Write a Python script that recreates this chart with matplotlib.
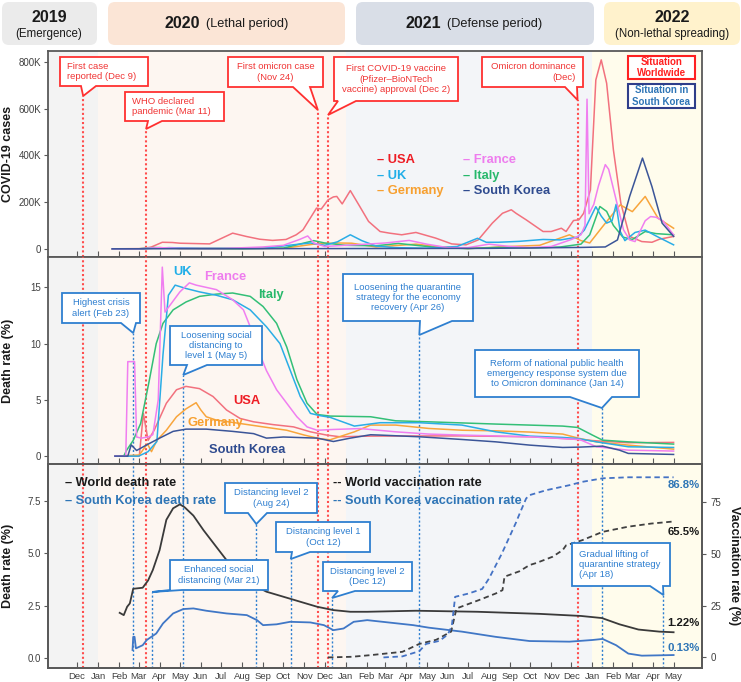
import matplotlib
matplotlib.use("Agg")
import matplotlib.pyplot as plt
import matplotlib.dates as mdates
from matplotlib.patches import Polygon, FancyBboxPatch, Rectangle
from matplotlib.transforms import IdentityTransform
import pandas as pd

plt.rcParams['font.family'] = ['Liberation Sans', 'DejaVu Sans']

# ------------------------------------------------------------------ data
# Panel 1: COVID-19 cases
usa_case_dates = ['2020-01-22','2020-03-08','2020-03-20','2020-04-05','2020-04-20','2020-05-01','2020-06-14','2020-07-18','2020-08-07','2020-08-27',
                  '2020-09-15','2020-10-05','2020-10-20','2020-10-30','2020-11-19','2020-11-26','2020-12-06','2020-12-14','2020-12-19','2020-12-27',
                  '2021-01-08','2021-01-22','2021-02-04','2021-02-21','2021-03-07','2021-03-25','2021-04-15','2021-05-14','2021-06-07','2021-06-28',
                  '2021-07-16','2021-08-06','2021-08-21','2021-09-03','2021-09-10','2021-09-25','2021-10-20','2021-11-01','2021-11-16','2021-11-23',
                  '2021-12-04','2021-12-12','2021-12-19','2021-12-29','2022-01-06','2022-01-14','2022-01-22','2022-02-01','2022-02-12','2022-02-25',
                  '2022-03-15','2022-03-30','2022-04-10','2022-05-01']
usa_cases = [0,1000,8000,28000,27000,24000,21000,67000,53000,41000,
             36000,40000,60000,81000,174000,170000,209000,222000,224000,192000,
             249000,181000,117000,74000,67000,60000,70000,46000,21000,17000,
             38000,110000,152000,167000,152000,124000,74000,74000,88000,74000,
             121000,124000,152000,252000,722000,808000,708000,423000,195000,53000,
             31000,28000,41000,53000]

fra_case_dates = ['2020-01-22','2020-03-01','2020-04-01','2020-05-01','2020-07-01','2020-09-01','2020-10-01','2020-10-25','2020-11-06','2020-11-15',
                  '2020-12-01','2021-01-01','2021-02-01','2021-03-01','2021-04-05','2021-05-01','2021-06-01','2021-07-01','2021-08-01','2021-09-01',
                  '2021-10-01','2021-11-01','2021-12-01','2021-12-15','2021-12-21','2021-12-24','2021-12-27','2022-01-03','2022-01-10','2022-01-20',
                  '2022-01-25','2022-02-05','2022-02-16','2022-02-25','2022-03-05','2022-03-20','2022-03-28','2022-04-05','2022-04-15','2022-05-01']
fra_cases = [0,0,5000,2000,1000,8000,15000,40000,55000,25000,
             10000,15000,20000,25000,36000,20000,5000,5000,20000,10000,
             5000,10000,40000,60000,100000,640000,150000,190000,270000,360000,
             340000,210000,81000,38000,31000,120000,138000,135000,120000,60000]

uk_case_dates = ['2020-01-22','2020-03-01','2020-04-15','2020-06-01','2020-09-01','2020-10-15','2020-11-10','2020-12-01','2020-12-20','2021-01-08',
                 '2021-01-25','2021-02-15','2021-03-15','2021-05-01','2021-06-15','2021-07-15','2021-07-28','2021-08-15','2021-09-15','2021-10-20',
                 '2021-11-15','2021-12-10','2021-12-20','2022-01-06','2022-01-14','2022-01-22','2022-01-30','2022-02-05','2022-02-11','2022-02-18',
                 '2022-03-05','2022-03-20','2022-04-05','2022-05-01']
uk_cases = [0,0,5000,2000,2000,17000,25000,15000,30000,60000,
            35000,12000,5000,2500,10000,45000,28000,28000,32000,40000,
            38000,50000,80000,180000,140000,110000,120000,190000,75000,35000,
            70000,80000,55000,17000]

ita_case_dates = ['2020-01-22','2020-03-01','2020-03-25','2020-05-01','2020-08-01','2020-10-01','2020-11-15','2020-12-01','2021-01-01','2021-02-15',
                  '2021-03-20','2021-04-15','2021-05-15','2021-07-01','2021-08-15','2021-10-01','2021-11-15','2021-12-15','2021-12-28','2022-01-12',
                  '2022-01-22','2022-02-01','2022-02-15','2022-03-01','2022-03-20','2022-04-05','2022-05-01']
ita_cases = [0,0,5500,2000,500,3000,35000,25000,15000,13000,
             23000,15000,6000,1000,6000,3000,8000,20000,60000,181000,
             160000,100000,50000,40000,74000,65000,60000]

ger_case_dates = ['2020-01-22','2020-03-01','2020-04-01','2020-05-01','2020-08-01','2020-10-01','2020-11-15','2020-12-20','2021-01-10','2021-02-15',
                  '2021-04-15','2021-05-15','2021-07-01','2021-09-01','2021-10-15','2021-11-28','2021-12-15','2021-12-28','2022-01-16','2022-02-11',
                  '2022-03-01','2022-03-20','2022-04-08','2022-05-01']
ger_cases = [0,0,5000,1500,1000,2000,20000,25000,24000,8000,
             20000,10000,1000,10000,15000,60000,35000,25000,95000,188000,
             159000,224000,131000,88000]

kor_case_dates = ['2020-01-22','2020-12-20','2021-08-01','2021-12-15','2022-01-20','2022-02-07','2022-02-25','2022-03-16','2022-03-30','2022-04-14','2022-05-01']
kor_cases = [0,1000,2000,6000,8000,38000,224000,388000,266000,110000,53000]

# Panel 2: death rate (%)
usa_dr_dates = ['2020-01-26','2020-03-02','2020-03-08','2020-03-15','2020-03-24','2020-04-11','2020-04-26','2020-05-10','2020-05-30','2020-06-19',
                '2020-07-09','2020-07-29','2020-08-18','2020-09-16','2020-10-16','2020-11-10','2020-12-04','2020-12-24','2021-02-07','2021-06-22',
                '2021-09-30','2021-11-18','2022-01-07','2022-02-23','2022-05-01']
usa_dr = [0,0,3.8,1.4,2.3,4.7,5.9,6.2,6.0,5.3,
          4.1,3.35,3.05,2.8,2.6,2.16,1.87,1.72,1.78,1.8,
          1.72,1.57,1.36,1.19,1.22]

fra_dr_dates = ['2020-01-26','2020-02-11','2020-02-14','2020-02-24','2020-02-27','2020-03-05','2020-03-15','2020-03-22','2020-03-30','2020-04-05',
                '2020-04-09','2020-04-15','2020-05-01','2020-05-15','2020-05-25','2020-06-24','2020-07-18','2020-08-03','2020-08-13','2020-08-23',
                '2020-09-06','2020-09-21','2020-10-06','2020-10-21','2020-11-05','2020-11-20','2020-12-14','2021-01-23','2021-03-16','2021-05-04',
                '2021-06-23','2021-09-30','2021-12-13','2022-01-07','2022-02-23','2022-05-01']
fra_dr = [0,0,8.4,8.4,1.7,1.6,1.7,1.9,5.0,16.8,
          12.8,13.3,14.6,15.4,15.2,14.8,13.9,13.0,11.5,9.7,
          7.6,5.9,4.7,3.5,2.6,2.3,2.37,2.45,2.16,1.96,
          1.87,1.72,1.48,0.83,0.53,0.45]

uk_dr_dates = ['2020-01-26','2020-03-01','2020-03-15','2020-03-28','2020-04-06','2020-04-14','2020-04-24','2020-05-10','2020-05-30','2020-06-24',
               '2020-07-18','2020-08-13','2020-09-06','2020-09-26','2020-10-11','2020-10-26','2020-11-10','2020-11-24','2020-12-09','2021-01-14',
               '2021-02-21','2021-04-20','2021-06-22','2021-08-11','2021-09-30','2021-11-18','2021-12-10','2022-01-07','2022-02-23','2022-05-01']
uk_dr = [0,0,0.4,1.3,9.0,14.3,15.2,14.9,14.6,14.3,
         13.9,13.0,11.5,10.0,7.65,5.3,3.8,3.6,3.45,2.67,
         2.97,2.97,2.76,2.16,1.78,1.66,1.57,1.27,0.83,0.77]

ita_dr_dates = ['2020-02-08','2020-02-12','2020-02-22','2020-03-04','2020-03-17','2020-03-27','2020-04-06','2020-04-21','2020-05-10','2020-05-30',
                '2020-06-24','2020-07-18','2020-08-13','2020-09-01','2020-09-21','2020-10-06','2020-10-21','2020-11-05','2020-11-20','2020-12-09',
                '2021-02-07','2021-03-16','2021-05-04','2021-08-11','2021-11-18','2021-12-10','2022-01-01','2022-01-16','2022-02-23','2022-05-01']
ita_dr = [0,0.5,1.4,2.9,6.8,10.0,11.8,13.0,13.7,14.2,
          14.4,14.5,14.2,13.3,11.8,9.7,6.8,4.7,3.7,3.56,
          3.5,3.14,3.05,2.85,2.67,2.55,1.87,1.42,1.27,1.07]

ger_dr_dates = ['2020-01-26','2020-03-02','2020-03-14','2020-03-20','2020-03-28','2020-04-11','2020-04-26','2020-05-10','2020-05-25','2020-06-01',
                '2020-06-09','2020-06-24','2020-07-29','2020-09-01','2020-10-06','2020-11-01','2020-11-24','2020-12-09','2021-01-14','2021-02-07',
                '2021-03-16','2021-05-04','2021-06-23','2021-08-11','2021-09-30','2021-11-18','2021-12-13','2022-01-07','2022-02-23','2022-05-01']
ger_dr = [0,0.1,1.1,0.4,1.4,2.3,3.5,4.2,4.75,4.1,
          3.5,3.2,2.9,2.6,2.3,1.87,1.55,1.45,2.16,2.76,
          2.76,2.46,2.3,2.25,2.14,1.96,1.57,1.27,0.98,0.62]

kor_dr_dates = ['2020-01-26','2020-02-14','2020-02-19','2020-02-27','2020-03-13','2020-04-01','2020-04-21','2020-05-10','2020-06-09','2020-07-18',
                '2020-08-18','2020-09-06','2020-10-01','2020-11-20','2020-12-14','2021-01-08','2021-02-07','2021-02-21','2021-04-20','2021-06-22',
                '2021-08-11','2021-09-30','2021-11-18','2021-12-13','2022-01-16','2022-02-10','2022-02-23','2022-05-01']
kor_dr = [0,0,1.0,0.5,1.0,1.6,2.2,2.4,2.4,2.2,
          2.0,1.6,1.7,1.6,1.3,1.6,1.9,1.87,1.72,1.48,
          1.27,0.98,0.77,0.8,0.89,0.53,0.24,0.15]

# Panel 3: death rate (left) and vaccination rate (right)
world_dr_dates = ['2020-02-02','2020-02-08','2020-02-13','2020-02-17','2020-02-22','2020-03-07','2020-03-15','2020-03-22','2020-04-01','2020-04-11',
                  '2020-04-21','2020-05-01','2020-05-08','2020-05-21','2020-06-05','2020-06-24','2020-07-09','2020-07-29','2020-08-18','2020-09-06',
                  '2020-10-01','2020-10-26','2020-11-20','2020-12-14','2021-01-08','2021-02-02','2021-04-15','2021-07-15','2021-10-15','2021-12-15',
                  '2022-01-15','2022-02-10','2022-03-10','2022-04-10','2022-05-01']
world_dr = [2.15,2.04,2.44,2.6,3.3,3.35,3.7,4.2,5.15,6.6,
            7.15,7.34,7.2,6.8,6.1,5.3,4.67,3.95,3.48,3.16,
            2.92,2.68,2.44,2.28,2.2,2.2,2.25,2.2,2.1,2.0,
            1.9,1.6,1.35,1.25,1.22]

kor_dr3_dates = ['2020-02-21','2020-02-22','2020-02-24','2020-02-26','2020-03-07','2020-03-13','2020-03-27','2020-04-06','2020-04-21','2020-05-06',
                 '2020-05-21','2020-06-09','2020-07-09','2020-08-08','2020-08-23','2020-09-01','2020-09-21','2020-10-11','2020-11-10','2020-11-30',
                 '2020-12-14','2020-12-29','2021-01-13','2021-02-02','2021-04-11','2021-05-04','2021-06-22','2021-08-11','2021-09-30','2021-11-28',
                 '2022-01-01','2022-01-16','2022-02-05','2022-02-23','2022-03-15','2022-05-01']
kor_dr3 = [0.37,1.0,1.0,0.45,0.6,0.85,1.16,1.64,2.12,2.33,
           2.36,2.25,2.12,2.04,1.8,1.56,1.6,1.72,1.69,1.56,
           1.32,1.4,1.72,1.8,1.56,1.44,1.25,1.0,0.8,0.77,
           0.85,0.9,0.6,0.2,0.1,0.13]

world_vac_dates = ['2020-12-06','2021-01-10','2021-02-07','2021-03-26','2021-04-20','2021-05-15','2021-06-06','2021-06-14','2021-07-17','2021-08-11',
                   '2021-08-21','2021-08-24','2021-09-15','2021-09-30','2021-10-10','2021-11-03','2021-11-18','2021-11-23','2021-12-17','2022-01-16',
                   '2022-02-23','2022-03-29','2022-05-01']
world_vac = [0,0.3,1.1,2.7,6.5,8.5,12.4,23.6,27.6,30.8,
             32.4,38.9,41.5,44.5,45.5,48.5,51.7,54.0,56.5,60.5,
             63.0,64.5,65.5]

kor_vac_dates = ['2021-02-26','2021-03-26','2021-04-20','2021-04-30','2021-05-20','2021-06-01','2021-06-07','2021-06-12','2021-07-02','2021-07-22',
                 '2021-08-01','2021-08-20','2021-09-10','2021-09-15','2021-09-25','2021-09-30','2021-10-25','2021-11-28','2021-12-17','2022-01-16',
                 '2022-02-23','2022-05-01']
kor_vac = [0,0.5,3.0,6.5,8.0,11.0,15.0,29.2,30.8,33.0,
           38.0,50.0,65.0,69.0,76.6,78.2,80.6,83.0,84.6,86.3,
           86.8,86.8]

# Events
world_event_dates = ['2019-12-10','2020-03-12','2020-11-21','2020-12-06','2021-12-10']
world_event_texts = ['First case\nreported (Dec 9)', 'WHO declared\npandemic (Mar 11)', 'First omicron case\n(Nov 24)',
                     'First COVID-19 vaccine\n(Pfizer\u2013BioNTech\nvaccine) approval (Dec 2)', 'Omicron dominance\n(Dec)']
kor_event2_dates = ['2020-02-22','2020-05-06','2021-04-20','2022-01-15']
kor_event2_texts = ['Highest crisis\nalert (Feb 23)', 'Loosening social\ndistancing to\nlevel 1 (May 5)',
                    'Loosening the quarantine\nstrategy for the economy\nrecovery (Apr 26)',
                    'Reform of national public health\nemergency response system due\nto Omicron dominance (Jan 14)']
kor_event3_dates = ['2020-03-21','2020-08-22','2020-10-12','2020-12-12','2022-04-16']
kor_event3_texts = ['Enhanced social\ndistancing (Mar 21)', 'Distancing level 2\n(Aug 24)', 'Distancing level 1\n(Oct 12)',
                    'Distancing level 2\n(Dec 12)', 'Gradual lifting of\nquarantine strategy\n(Apr 18)']

periods = ['2019', '2020', '2021', '2022']
period_notes = ['(Emergence)', '(Lethal period)', '(Defense period)', '(Non-lethal spreading)']
period_starts = ['2019-10-19', '2020-01-01', '2021-01-01', '2022-01-01']

case_ticks = [0, 200000, 400000, 600000, 800000]
case_ticklabels = ['0', '200K', '400K', '600K', '800K']

# ------------------------------------------------------------------ style
C_USA, C_FRA, C_UK, C_ITA, C_GER, C_KOR = '#f2717e', '#f07ef0', '#2aade6', '#33bf77', '#f8a53c', '#3b5598'
T_USA, T_FRA, T_UK, T_ITA, T_GER, T_KOR = '#ee1c24', '#ee7cee', '#20aee8', '#27b86b', '#f7a030', '#2f4b8f'
RED, BLUE = '#ff3030', '#2e7fd0'
SPINE = '#595959'
SHADES = ['#f3f3f3', '#fdf6f1', '#f3f5f8', '#fffcec']
HEADS = ['#ebebeb', '#fbe5d6', '#d9dee7', '#fff2cc']

W, H, DPI = 741, 682, 100
fig = plt.figure(figsize=(W / DPI, H / DPI), dpi=DPI)
fig.patch.set_facecolor('white')
AX_L, AX_R = 48, 702
P1, P2, P3 = (51, 257), (257, 464), (464, 668)
X0, X1 = pd.Timestamp('2019-10-19'), pd.Timestamp('2022-06-12')


def add_ax(r):
    top, bot = r
    return fig.add_axes([AX_L / W, 1 - bot / H, (AX_R - AX_L) / W, (bot - top) / H])


def fx(px):
    return (px - AX_L) / (AX_R - AX_L)


def fy(r, py):
    top, bot = r
    return (bot - py) / (bot - top)


def dfrac(d):
    n0, n1 = mdates.date2num(X0), mdates.date2num(X1)
    return (mdates.date2num(pd.Timestamp(d)) - n0) / (n1 - n0)


def D(lst):
    return pd.to_datetime(lst)


ax1, ax2, ax3 = add_ax(P1), add_ax(P2), add_ax(P3)
ax3r = ax3.twinx()

month_ticks = pd.date_range('2019-12-01', '2022-05-01', freq='MS')
for ax in (ax1, ax2, ax3):
    ax.set_xlim(X0, X1)
    ax.set_facecolor('white')
    ends = period_starts[1:] + [str(X1.date())]
    for s, e, c in zip(period_starts, ends, SHADES):
        ax.axvspan(pd.Timestamp(s), pd.Timestamp(e), color=c, lw=0, zorder=0)
    ax.set_xticks(month_ticks)
    ax.xaxis.set_major_formatter(mdates.DateFormatter('%b'))
    ax.tick_params(axis='x', direction='in', length=4, width=0.8, color=SPINE,
                   labelsize=6.8, labelcolor='#404040', pad=3)
    ax.tick_params(axis='y', direction='out', length=3, width=0.8, color=SPINE,
                   labelsize=7, labelcolor='#404040', pad=2)
    for sp in ax.spines.values():
        sp.set_color(SPINE)
        sp.set_linewidth(1.3)
for sp in ax3r.spines.values():
    sp.set_color(SPINE)
    sp.set_linewidth(1.3)
ax1.tick_params(axis='x', labelbottom=False)
ax2.tick_params(axis='x', labelbottom=False)

# ---- panel 1
ax1.set_ylim(-35000, 846000)
ax1.set_yticks(case_ticks)
ax1.set_yticklabels(case_ticklabels)
lw = 1.1
ax1.plot(D(usa_case_dates), usa_cases, color=C_USA, lw=lw, zorder=4)
ax1.plot(D(ger_case_dates), ger_cases, color=C_GER, lw=lw, zorder=4)
ax1.plot(D(ita_case_dates), ita_cases, color=C_ITA, lw=lw, zorder=4)
ax1.plot(D(uk_case_dates), uk_cases, color=C_UK, lw=lw, zorder=4)
ax1.plot(D(fra_case_dates), fra_cases, color=C_FRA, lw=lw, zorder=4)
ax1.plot(D(kor_case_dates), kor_cases, color=C_KOR, lw=lw, zorder=4)
ax1.set_ylabel('COVID-19 cases', fontsize=9, fontweight='bold', color='#1a1a1a')
ax1.yaxis.set_label_coords(fx(14), 0.5)

leg1 = [('USA', T_USA, 377, 160), ('UK', T_UK, 377, 176), ('Germany', T_GER, 377, 191),
        ('France', T_FRA, 463, 160), ('Italy', T_ITA, 463, 176), ('South Korea', T_KOR, 463, 191)]
for name, c, px, py in leg1:
    ax1.text(fx(px), fy(P1, py), '\u2013 ' + name, transform=ax1.transAxes, color=c,
             fontsize=9.3, fontweight='bold', ha='left', va='center', zorder=7)

# ---- panel 2
ax2.set_ylim(-0.7, 17.7)
ax2.set_yticks([0, 5, 10, 15])
ax2.plot(D(usa_dr_dates), usa_dr, color=C_USA, lw=lw, zorder=4)
ax2.plot(D(ger_dr_dates), ger_dr, color=C_GER, lw=lw, zorder=4)
ax2.plot(D(ita_dr_dates), ita_dr, color=C_ITA, lw=lw, zorder=4)
ax2.plot(D(uk_dr_dates), uk_dr, color=C_UK, lw=lw, zorder=4)
ax2.plot(D(fra_dr_dates), fra_dr, color=C_FRA, lw=lw, zorder=4)
ax2.plot(D(kor_dr_dates), kor_dr, color=C_KOR, lw=lw, zorder=4)
ax2.set_ylabel('Death rate (%)', fontsize=9, fontweight='bold', color='#1a1a1a')
ax2.yaxis.set_label_coords(fx(14), 0.5)
lab2 = [('UK', T_UK, 182, 272), ('France', T_FRA, 225, 277), ('Italy', T_ITA, 271, 295),
        ('USA', T_USA, 247, 401), ('Germany', T_GER, 215, 423), ('South Korea', T_KOR, 247, 450)]
for name, c, px, py in lab2:
    ax2.text(fx(px), fy(P2, py), name, transform=ax2.transAxes, color=c, fontsize=9.3,
             fontweight='bold', ha='center', va='center', zorder=7)

# ---- panel 3
ax3.set_ylim(-0.49, 9.27)
ax3.set_yticks([0, 2.5, 5, 7.5])
ax3.set_yticklabels(['0.0', '2.5', '5.0', '7.5'])
ax3r.set_ylim(-5.1, 93.2)
ax3r.set_yticks([0, 25, 50, 75])
ax3r.tick_params(axis='y', direction='out', length=3, width=0.8, color=SPINE,
                 labelsize=7, labelcolor='#404040', pad=3)
ax3.plot(D(world_dr_dates), world_dr, color='#3a3a3a', lw=1.3, zorder=4)
ax3.plot(D(kor_dr3_dates), kor_dr3, color='#4077c6', lw=1.3, zorder=4)
ax3r.plot(D(world_vac_dates), world_vac, color='#404040', lw=1.3, ls=(0, (3, 2)), zorder=4)
ax3r.plot(D(kor_vac_dates), kor_vac, color='#4472c4', lw=1.3, ls=(0, (3, 2)), zorder=4)
ax3.set_ylabel('Death rate (%)', fontsize=9, fontweight='bold', color='#1a1a1a')
ax3.yaxis.set_label_coords(fx(14), 0.5)
ax3r.set_ylabel('Vaccination rate (%)', fontsize=9, fontweight='bold', color='#1a1a1a', rotation=270,
                va='center')
ax3r.yaxis.set_label_coords(fx(734), 0.5)

leg3 = [('\u2013 World death rate', '#1a1a1a', 65, 483), ('\u2013 South Korea death rate', '#2e75b6', 65, 501),
        ('-- World vaccination rate', '#1a1a1a', 333, 483), ('-- South Korea vaccination rate', '#2e75b6', 333, 501)]
for s, c, px, py in leg3:
    ax3r.text(fx(px), fy(P3, py), s, transform=ax3r.transAxes, color=c, fontsize=9.2,
              fontweight='bold', ha='left', va='center', zorder=7)

end_labels = [(ax3r, kor_vac_dates, kor_vac, '#2e75b6', (10, -8)),
              (ax3r, world_vac_dates, world_vac, '#1a1a1a', (10, -11)),
              (ax3, world_dr_dates, world_dr, '#1a1a1a', (10, 9)),
              (ax3, kor_dr3_dates, kor_dr3, '#2e75b6', (10, 7))]
for ax, dd, vv, c, off in end_labels:
    ax.annotate(f'{vv[-1]:g}%', xy=(pd.Timestamp(dd[-1]), vv[-1]), xytext=off, textcoords='offset pixels',
                color=c, fontsize=8.2, fontweight='bold', ha='center', va='center', zorder=8)


# ------------------------------------------------------------------ events / callouts
def vline(ax, date, color, lwid, dash, ymax=1.0):
    ax.axvline(pd.Timestamp(date), ymin=0, ymax=ymax, color=color, lw=lwid, ls=(0, dash), zorder=3)


def callout(ax, r, box, base, date, tip_py, text, ec, tc, ha='center', fs=6.8):
    x0, x1 = fx(box[0]), fx(box[1])
    y1, y0 = fy(r, box[2]), fy(r, box[3])
    tx, ty = dfrac(date), fy(r, tip_py)
    a, b = fx(base[0]), fx(base[1])
    verts = [(x0, y0), (a, y0), (tx, ty), (b, y0), (x1, y0), (x1, y1), (x0, y1)]
    ax.add_patch(Polygon(verts, closed=True, transform=ax.transAxes, fc='white', ec=ec,
                         lw=1.3, zorder=9, clip_on=False, joinstyle='miter'))
    if ha == 'left':
        xt = fx(box[0] + 7)
    elif ha == 'right':
        xt = fx(box[1] - 7)
    else:
        xt = (x0 + x1) / 2
    ax.text(xt, (y0 + y1) / 2, text, transform=ax.transAxes, color=tc, fontsize=fs, ha=ha,
            va='center', multialignment=ha, linespacing=1.2, zorder=10)
    return ty


RED_DASH = (1.0, 1.2)
BLUE_DASH = (1.5, 1.5)

world_layout = [((60, 148, 57, 86), (81, 96), 96, 'left'),
                ((125, 224, 92, 121), (148, 162), 129, 'left'),
                ((228, 323, 57, 87), (293, 310), 110, 'center'),
                ((334, 458, 57, 101), (338, 356), 115, 'center'),
                ((482, 583, 57, 87), (565, 577), 100, 'right')]
for d, t, (box, base, tip, ha) in zip(world_event_dates, world_event_texts, world_layout):
    ty = callout(ax1, P1, box, base, d, tip, t, RED, '#f03535', ha)
    vline(ax1, d, '#ff4d4d', 1.5, RED_DASH, ymax=ty)
    vline(ax2, d, '#ff4d4d', 1.5, RED_DASH)
    vline(ax3, d, '#ff4d4d', 1.5, RED_DASH)

kor2_layout = [((62, 140, 293, 323), (121, 136), 333, 'center'),
               ((170, 262, 326, 365), (187, 207), 375, 'center'),
               ((343, 473, 274, 321), (420, 452), 335, 'center'),
               ((475, 639, 350, 397), (570, 612), 408, 'center')]
for d, t, (box, base, tip, ha) in zip(kor_event2_dates, kor_event2_texts, kor2_layout):
    ty = callout(ax2, P2, box, base, d, tip, t, BLUE, BLUE, ha)
    vline(ax2, d, BLUE, 1.0, BLUE_DASH, ymax=ty)
    vline(ax3, d, BLUE, 1.0, BLUE_DASH)

kor3_layout = [((170, 268, 560, 590), (170, 182), 592, 'center'),
               ((225, 317, 483, 513), (248, 267), 524, 'center'),
               ((276, 370, 522, 552), (292, 310), 559, 'center'),
               ((323, 412, 562, 591), (338, 355), 598, 'center'),
               ((572, 670, 543, 586), (650, 663), 595, 'left')]
for d, t, (box, base, tip, ha) in zip(kor_event3_dates, kor_event3_texts, kor3_layout):
    ty = callout(ax3r, P3, box, base, d, tip, t, BLUE, BLUE, ha)
    vline(ax3, d, BLUE, 1.0, BLUE_DASH, ymax=ty)

# situation key boxes
for (y_top, y_bot, ec, tc, s) in [(56, 79, '#ff2020', '#ff2020', 'Situation\nWorldwide'),
                                  (84, 108, '#2f3e8a', '#2e75b6', 'Situation in\nSouth Korea')]:
    x0, x1 = fx(628), fx(695)
    y0, y1 = fy(P1, y_bot), fy(P1, y_top)
    ax1.add_patch(Rectangle((x0, y0), x1 - x0, y1 - y0, transform=ax1.transAxes, fc='white',
                            ec=ec, lw=1.5, zorder=9))
    ax1.text((x0 + x1) / 2, (y0 + y1) / 2, s, transform=ax1.transAxes, color=tc, fontsize=7,
             fontweight='bold', ha='center', va='center', linespacing=1.15, zorder=10)

# ------------------------------------------------------------------ header boxes
ID = IdentityTransform()
head_boxes = [(2, 97), (108, 345), (356, 594), (604, 740)]
for (x0, x1), c in zip(head_boxes, HEADS):
    fig.add_artist(FancyBboxPatch((x0, H - 45), x1 - x0, 43, boxstyle='round,pad=0,rounding_size=7',
                                  transform=ID, fc=c, ec='none'))
# two-line headers
for i, cx in [(0, 49), (3, 672)]:
    fig.text(cx, H - 18, periods[i], transform=ID, fontsize=11.5, fontweight='bold', ha='center',
             va='center', color='#1a1a1a')
    fig.text(cx, H - 34, period_notes[i], transform=ID, fontsize=8.3, ha='center', va='center',
             color='#1a1a1a')
# single-line headers
for i, xr in [(1, 200), (2, 441)]:
    fig.text(xr, H - 24, periods[i], transform=ID, fontsize=11.5, fontweight='bold', ha='right',
             va='center', color='#1a1a1a')
    fig.text(xr + 6, H - 24, period_notes[i], transform=ID, fontsize=9.2, ha='left', va='center',
             color='#1a1a1a')

fig.savefig('out.png', dpi=DPI)
